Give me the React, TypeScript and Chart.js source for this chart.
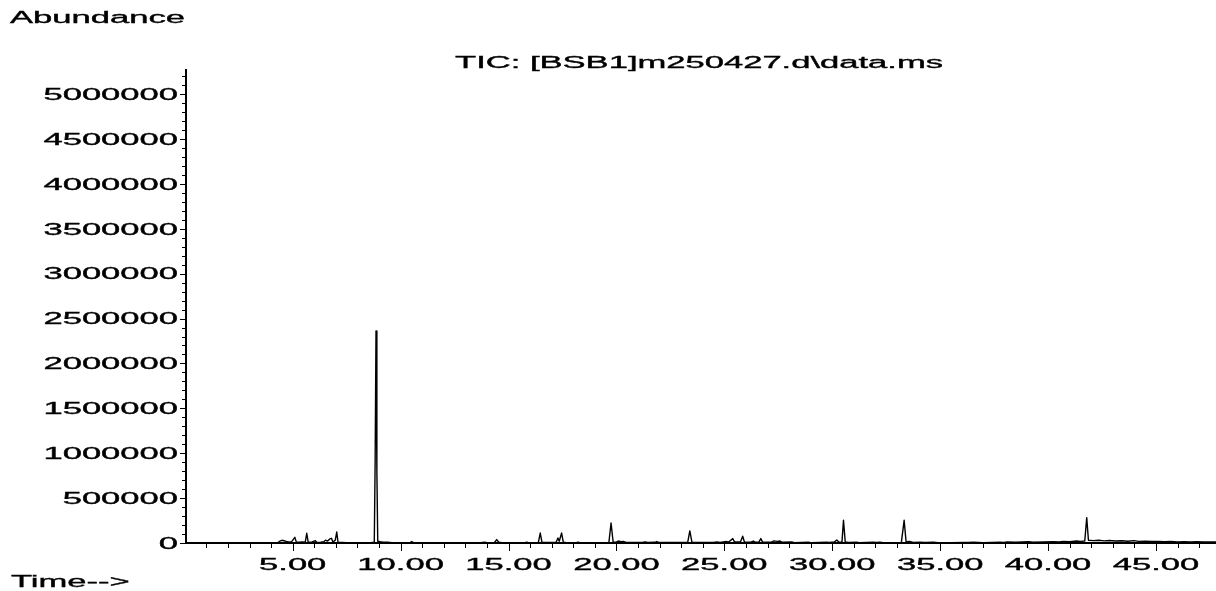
import { useEffect, useRef } from 'react';
import { Chart, registerables } from 'chart.js';

Chart.register(...registerables);

// ---- Text ----
const TITLE = 'TIC: [BSB1]m250427.d\\data.ms';
const Y_TITLE = 'Abundance';
const X_TITLE = 'Time-->';

// ---- Axis ranges / ticks ----
const X_MIN = 0.056;
const X_MAX = 47.78;
const Y_MAX = 5280000;
const yMajorTicks = [0, 500000, 1000000, 1500000, 2000000, 2500000, 3000000, 3500000, 4000000, 4500000, 5000000];
const yTickLabels = ['0', '500000', '1000000', '1500000', '2000000', '2500000', '3000000', '3500000', '4000000', '4500000', '5000000'];
const xMajorTicks = [5, 10, 15, 20, 25, 30, 35, 40, 45];
const xTickLabels = ['5.00', '10.00', '15.00', '20.00', '25.00', '30.00', '35.00', '40.00', '45.00'];

// ---- Chromatogram trace (retention time in min, abundance) ----
const earlyTimes = [3.0, 4.3, 4.4, 4.5, 4.6, 4.7, 4.8, 4.95, 5.1, 5.17, 5.3, 5.45, 5.58, 5.65, 5.72, 5.9, 6.05, 6.12, 6.3, 6.45, 6.52, 6.62, 6.72, 6.8, 6.86, 6.97, 7.04, 7.1, 7.3, 7.5, 7.8, 8.2, 8.6, 8.78, 8.82, 8.86, 8.9, 8.94, 9.05, 9.2, 9.4, 9.6, 10.0, 10.45, 10.51, 10.6, 11.2];
const earlyAbundance = [0, 2000, 20000, 30000, 25000, 18000, 12000, 15000, 63000, 10000, 8000, 12000, 8000, 108000, 8000, 12000, 25000, 6000, 10000, 15000, 32000, 22000, 45000, 52000, 10000, 30000, 122000, 8000, 6000, 4000, 2000, 2000, 3000, 8000, 900000, 2361000, 800000, 20000, 15000, 10000, 8000, 4000, 3000, 5000, 16000, 4000, 3000];

const midTimes = [12.5, 13.7, 13.91, 13.98, 14.35, 14.45, 14.55, 14.7, 15.78, 15.84, 15.92, 16.38, 16.47, 16.55, 17.2, 17.29, 17.35, 17.46, 17.54, 17.7, 18.15, 18.21, 18.3, 19.65, 19.75, 19.85, 20.0, 20.09, 20.2, 20.32, 20.45, 21.2, 21.33, 21.45, 21.8, 21.87, 21.95, 23.3, 23.4, 23.5, 24.5, 24.65, 24.8, 25.03, 25.2, 25.39, 25.47, 25.75, 25.85, 25.93, 26.2, 26.34, 26.45, 26.6, 26.69, 26.77, 27.2, 27.3, 27.45, 27.58, 27.7, 28.12, 28.25, 28.89, 29.0, 29.74, 29.85, 30.1, 30.21, 30.3, 30.45, 30.52, 30.6, 30.75, 31.13, 31.25, 31.9, 32.05, 32.21, 32.35, 33.2, 33.33, 33.42, 33.61, 33.75, 34.07, 34.3, 34.69, 34.9, 35.5];
const midAbundance = [2000, 3000, 9000, 4000, 6000, 38000, 8000, 3000, 4000, 9000, 3000, 5000, 111000, 6000, 5000, 56000, 20000, 111000, 8000, 4000, 3000, 9000, 3000, 4000, 223000, 6000, 12000, 22000, 14000, 18000, 6000, 5000, 12000, 6000, 8000, 16000, 6000, 5000, 134000, 6000, 5000, 13000, 5000, 16000, 12000, 49000, 12000, 15000, 75000, 12000, 8000, 22000, 8000, 10000, 49000, 10000, 12000, 24000, 18000, 22000, 8000, 12000, 4000, 8000, 3000, 10000, 5000, 12000, 33000, 10000, 12000, 253000, 12000, 5000, 9000, 3000, 8000, 6000, 9000, 3000, 5000, 253000, 14000, 16000, 6000, 9000, 5000, 8000, 3000, 4000];

const lateTimes = [36.08, 36.3, 36.54, 37.0, 37.78, 37.95, 38.09, 38.5, 39.09, 39.3, 39.8, 40.25, 40.5, 40.71, 41.0, 41.33, 41.5, 41.7, 41.79, 41.87, 42.1, 42.35, 42.6, 42.85, 43.1, 43.4, 43.7, 43.97, 44.2, 44.5, 44.8, 45.1, 45.4, 45.7, 46.0, 46.3, 46.6, 46.9, 47.2, 47.5, 47.78];
const lateAbundance = [7000, 5000, 8000, 4000, 10000, 7000, 11000, 8000, 15000, 9000, 11000, 14000, 12000, 16000, 15000, 22000, 18000, 22000, 283000, 30000, 26000, 30000, 24000, 28000, 22000, 25000, 20000, 26000, 18000, 20000, 16000, 18000, 14000, 17000, 13000, 15000, 12000, 14000, 12000, 13000, 12000];

const SX = 2.16; // horizontal stretch of the reference's lettering
const FONT = '16px "Liberation Sans", Arial, sans-serif';

function drawText(ctx: CanvasRenderingContext2D, text: string, x: number, y: number, align: CanvasTextAlign) {
  ctx.save();
  ctx.translate(x, y);
  ctx.scale(SX, 1);
  ctx.font = FONT;
  ctx.fillStyle = '#000';
  ctx.strokeStyle = '#000';
  ctx.lineWidth = 0.35;
  ctx.textAlign = align;
  ctx.textBaseline = 'alphabetic';
  ctx.fillText(text, 0, 0);
  ctx.strokeText(text, 0, 0);
  ctx.restore();
}

const axesPlugin = {
  id: 'msdAxes',
  afterDraw(chart: any) {
    const ctx: CanvasRenderingContext2D = chart.ctx;
    const xs = chart.scales.x;
    const ys = chart.scales.y;
    const area = chart.chartArea;
    const axisX = area.left;
    const axisY = area.bottom;
    ctx.save();
    ctx.fillStyle = '#000';
    // axis lines
    ctx.fillRect(axisX - 1, area.top, 2, axisY - area.top + 1);
    ctx.fillRect(axisX - 1, axisY - 1, area.right - axisX + 1, 2);
    // y ticks
    ctx.strokeStyle = '#000';
    ctx.lineWidth = 1;
    for (let i = 0; i * 100000 <= Y_MAX; i++) {
      const v = i * 100000;
      const y = Math.round(ys.getPixelForValue(v)) + 0.5;
      const len = i % 5 === 0 ? 5 : 3;
      ctx.beginPath();
      ctx.moveTo(axisX - 1 - len, y);
      ctx.lineTo(axisX - 1, y);
      ctx.stroke();
    }
    // x ticks
    for (let t = 1; t <= Math.floor(X_MAX); t++) {
      const x = Math.round(xs.getPixelForValue(t)) + 0.5;
      const len = t % 5 === 0 ? 7 : 4;
      ctx.beginPath();
      ctx.moveTo(x, axisY + 1);
      ctx.lineTo(x, axisY + 1 + len);
      ctx.stroke();
    }
    ctx.restore();
    // labels
    yMajorTicks.forEach((v, i) => {
      drawText(ctx, yTickLabels[i], 178, ys.getPixelForValue(v) + 5.8, 'right');
    });
    xMajorTicks.forEach((v, i) => {
      drawText(ctx, xTickLabels[i], xs.getPixelForValue(v), 570, 'center');
    });
    drawText(ctx, TITLE, 699, 67.7, 'center');
    drawText(ctx, Y_TITLE, 10, 23.3, 'left');
    drawText(ctx, X_TITLE, 11, 586.5, 'left');
  },
};

export default function App() {
  const ref = useRef<HTMLCanvasElement | null>(null);
  useEffect(() => {
    document.body.style.margin = '0';
    const canvas = ref.current;
    if (!canvas) return;
    const times = [...earlyTimes, ...midTimes, ...lateTimes];
    const values = [...earlyAbundance, ...midAbundance, ...lateAbundance];
    const points = times.map((t, i) => ({ x: t, y: values[i] }));
    const chart = new Chart(canvas, {
      type: 'line',
      data: {
        datasets: [
          {
            data: points,
            borderColor: '#000',
            borderWidth: 1.4,
            pointRadius: 0,
            tension: 0,
            fill: false,
            borderJoinStyle: 'round',
          } as any,
        ],
      },
      options: {
        animation: false,
        responsive: false,
        maintainAspectRatio: false,
        events: [],
        layout: { padding: { left: 186, right: 0, top: 69, bottom: 48 } },
        plugins: {
          legend: { display: false },
          tooltip: { enabled: false },
          title: { display: false },
        },
        scales: {
          x: { type: 'linear', min: X_MIN, max: X_MAX, display: false },
          y: { type: 'linear', min: 0, max: Y_MAX, display: false },
        },
      },
      plugins: [axesPlugin],
    });
    return () => chart.destroy();
  }, []);
  return (
    <div style={{ width: 1216, height: 591, background: '#fff' }}>
      <canvas ref={ref} width={1216} height={591} style={{ display: 'block' }} />
    </div>
  );
}
